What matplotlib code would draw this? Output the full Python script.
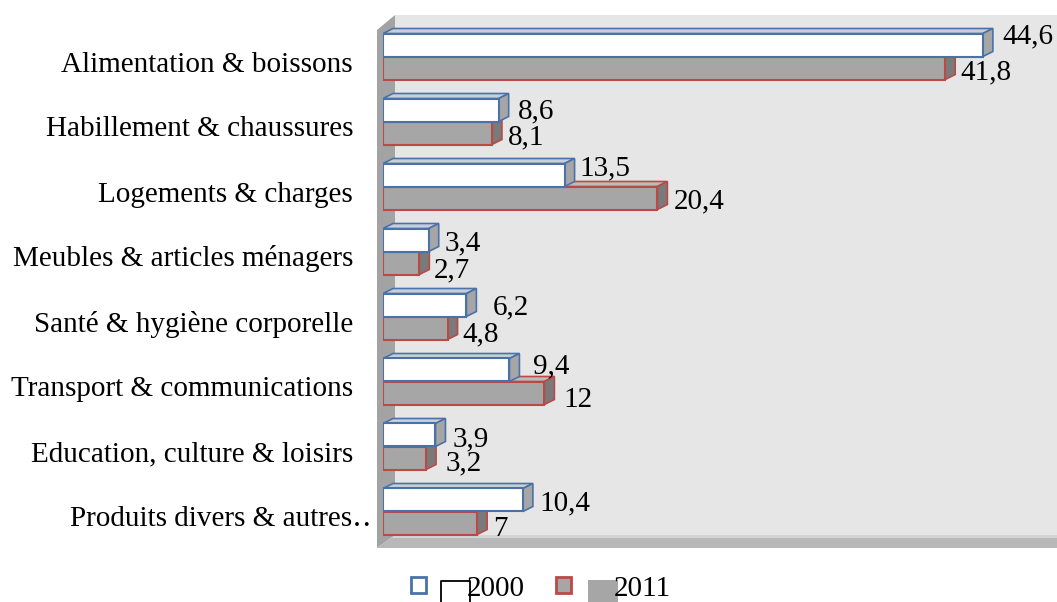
import matplotlib
matplotlib.use("Agg")
import matplotlib.pyplot as plt
from matplotlib.patches import Polygon, Rectangle

categories = [
    "Alimentation & boissons",
    "Habillement & chaussures",
    "Logements & charges",
    "Meubles & articles ménagers",
    "Santé & hygiène corporelle",
    "Transport & communications",
    "Education, culture & loisirs",
    "Produits divers & autres\u2025",
]
values_2000 = [44.6, 8.6, 13.5, 3.4, 6.2, 9.4, 3.9, 10.4]
values_2011 = [41.8, 8.1, 20.4, 2.7, 4.8, 12, 3.2, 7]
series_labels = ["2000", "2011"]

# label placement nudges in pixels (x right of bar end, y below bar centre)
NUDGE_2000 = [(20, -11), (19, -1), (15, -9), (16, 1), (26, 0), (24, -6), (17, 2), (17, 1)]
NUDGE_2011 = [(15, 2), (16, 2), (16, 1), (14, 5), (15, 4), (19, 4), (20, 3), (16, 3)]

W, H = 1057, 602
FONT = ["Liberation Serif", "DejaVu Serif"]
plt.rcParams["font.family"] = FONT

fig = plt.figure(figsize=(W / 100, H / 100), dpi=100)

# background axes in pixel coordinates (walls + legend)
bg = fig.add_axes([0, 0, 1, 1], zorder=0)
bg.set_xlim(0, W)
bg.set_ylim(H, 0)
bg.axis("off")

bg.add_patch(Polygon([(395, 15), (W, 15), (W, 535), (395, 535)], closed=True,
                     facecolor="#e6e6e6", edgecolor="none"))
bg.add_patch(Polygon([(377, 30), (395, 15), (395, 535), (377, 548)], closed=True,
                     facecolor="#a3a3a3", edgecolor="none"))
bg.add_patch(Polygon([(377, 548), (395, 535), (W, 535), (W, 548)], closed=True,
                     facecolor="#b8b8b8", edgecolor="none"))
bg.add_patch(Polygon([(395, 535), (W, 535), (W, 538), (392, 538)], closed=True,
                     facecolor="#d4d4d4", edgecolor="none"))

# main axes
ax_left, ax_top, ax_bottom = 383, 24, 544
XMAX = 50
scale = 13.45
ax_w = XMAX * scale
ax = fig.add_axes([ax_left / W, 1 - ax_bottom / H, ax_w / W, (ax_bottom - ax_top) / H], zorder=1)
ax.set_facecolor("none")
n = len(categories)
ax.set_xlim(0, XMAX)
ax.set_ylim(n - 0.5, -0.5)
for s in ax.spines.values():
    s.set_visible(False)
ax.set_xticks([])
ax.set_yticks(range(n))
ax.set_yticklabels([])
ax.tick_params(left=False)

bar_h = 23 / 65
DEPTH_X_PX, DEPTH_Y_PX = 10, 5
dx = DEPTH_X_PX / ax_w * XMAX
dy = DEPTH_Y_PX / (ax_bottom - ax_top) * n

styles = {
    "2000": dict(front="#ffffff", top="#c9ced8", side="#a6a6a6", edge="#4a72a8"),
    "2011": dict(front="#a6a6a6", top="#bcbcbc", side="#7a7a7a", edge="#b94a48"),
}

def draw_bar(y_center, w, st, z):
    y_top = y_center - bar_h / 2
    y_bot = y_center + bar_h / 2
    ax.barh(y_center, w, height=bar_h, color=st["front"], edgecolor=st["edge"],
            linewidth=1.5, zorder=z + 0.2)
    ax.add_patch(Polygon([(0, y_top), (w, y_top), (w + dx, y_top - dy), (dx, y_top - dy)],
                         closed=True, facecolor=st["top"], edgecolor=st["edge"],
                         linewidth=1.2, zorder=z))
    ax.add_patch(Polygon([(w, y_top), (w + dx, y_top - dy), (w + dx, y_bot - dy), (w, y_bot)],
                         closed=True, facecolor=st["side"], edgecolor=st["edge"],
                         linewidth=1.2, zorder=z + 0.1))

FS = 21
HALF_DIGIT = 9.6  # px from digit centre to baseline

def fmt(v):
    return f"{v:g}".replace(".", ",")

for i in range(n):
    yc11 = i + bar_h / 2
    yc00 = i - bar_h / 2
    draw_bar(yc11, values_2011[i], styles["2011"], 2)
    draw_bar(yc00, values_2000[i], styles["2000"], 3)
    nx, ny = NUDGE_2000[i]
    ax.annotate(fmt(values_2000[i]), (values_2000[i], yc00),
                xytext=(nx, -(ny + HALF_DIGIT)), textcoords="offset pixels",
                va="baseline", ha="left", fontsize=FS, zorder=6, annotation_clip=False)
    nx, ny = NUDGE_2011[i]
    ax.annotate(fmt(values_2011[i]), (values_2011[i], yc11),
                xytext=(nx, -(ny + HALF_DIGIT)), textcoords="offset pixels",
                va="baseline", ha="left", fontsize=FS, zorder=6, annotation_clip=False)

# category labels
for i, c in enumerate(categories):
    off = 19 if i == n - 1 else 0
    ax.annotate(c, (0, i), xytext=(-30 + off, -15), textcoords="offset pixels",
                ha="right", va="baseline", fontsize=FS, annotation_clip=False)

# legend (drawn in pixel coords)
LEG_BASE = 596
bg.add_patch(Rectangle((411, 577), 15, 16, facecolor="white", edgecolor="#4a72a8", linewidth=2))
bg.plot([441, 441, 470, 470], [603, 581, 581, 603], color="black", linewidth=1.3)
bg.text(467, LEG_BASE, series_labels[0], fontsize=FS, va="baseline", ha="left")
bg.add_patch(Rectangle((556, 577), 15, 16, facecolor="#a6a6a6", edgecolor="#b94a48", linewidth=2))
bg.add_patch(Rectangle((588, 580), 30, 23, facecolor="#a6a6a6", edgecolor="none"))
bg.text(614, LEG_BASE, series_labels[1], fontsize=FS, va="baseline", ha="left")

fig.savefig("out.png", dpi=100)
